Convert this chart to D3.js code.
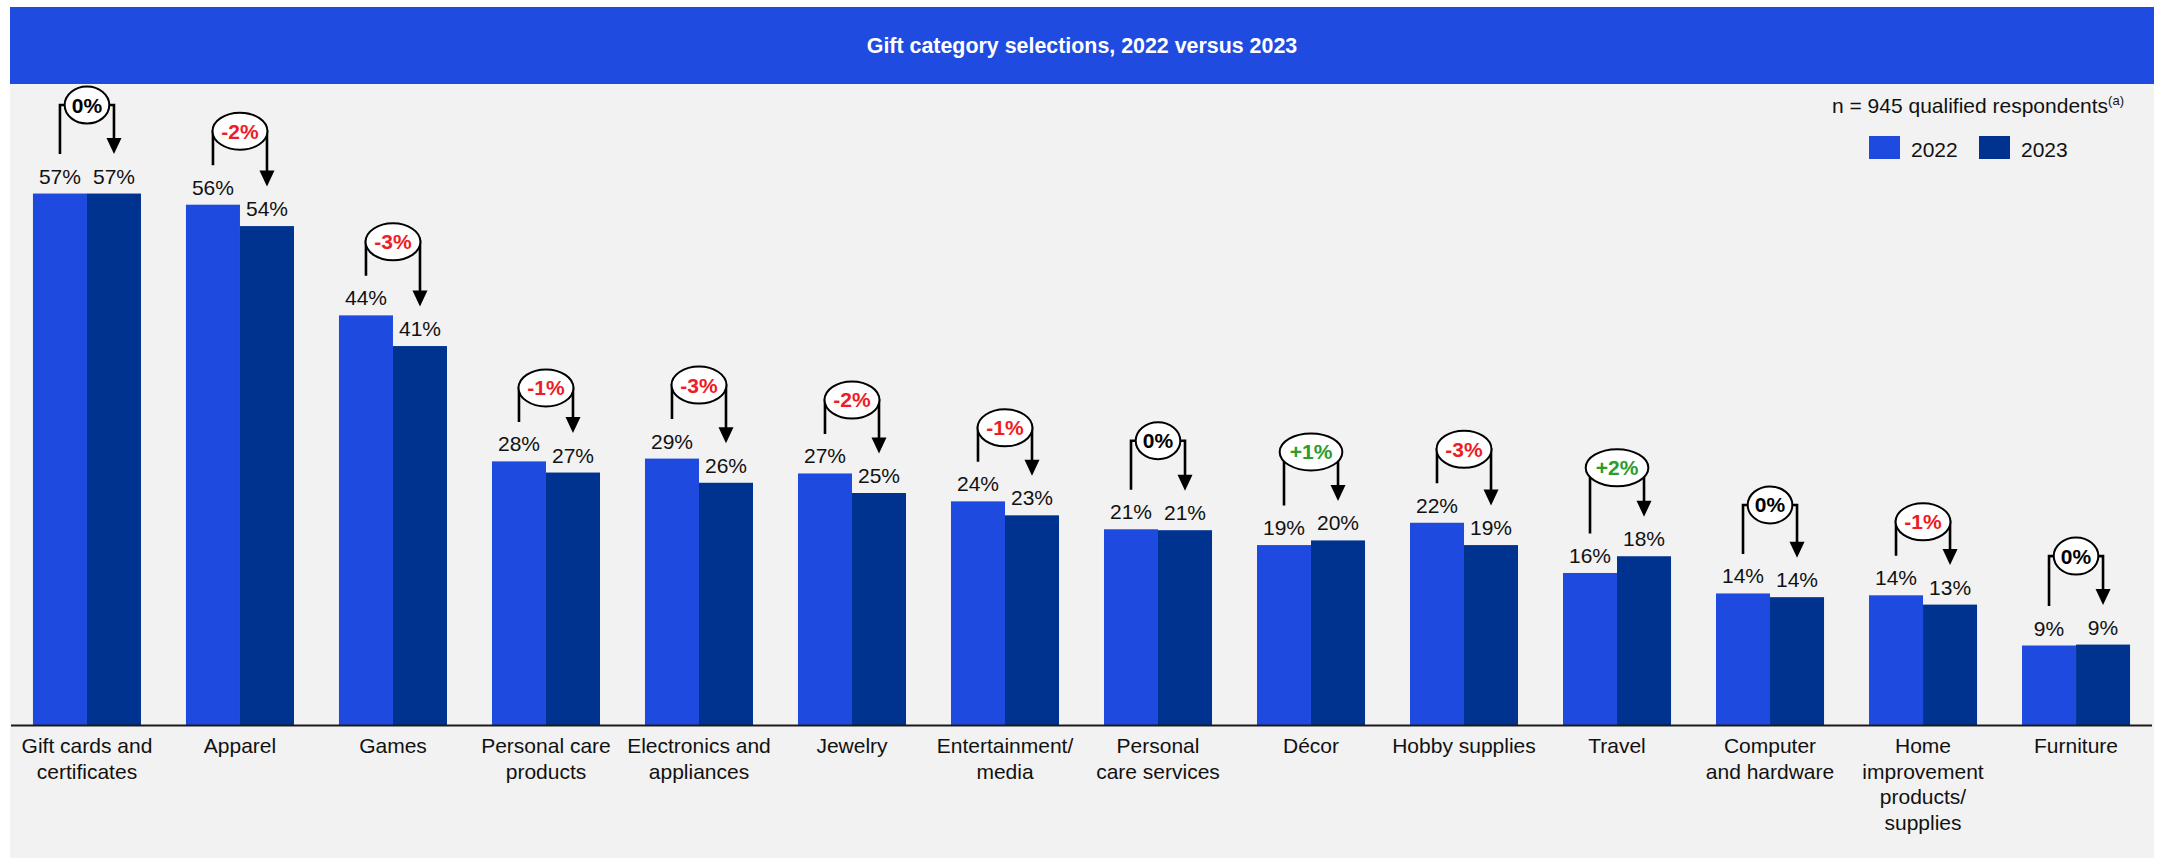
<!DOCTYPE html>
<html><head><meta charset="utf-8">
<script src="https://cdn.jsdelivr.net/npm/d3@7"></script>
<style>
html,body{margin:0;padding:0;background:#fff;}
svg{display:block;font-family:"Liberation Sans",Arial,Helvetica,sans-serif;}
</style>
</head><body>
<svg id="chart" width="2158" height="858"></svg>
<script>
// ---- data ----
const categories = ["Gift cards and certificates","Apparel","Games","Personal care products","Electronics and appliances","Jewelry","Entertainment/ media","Personal care services","Décor","Hobby supplies","Travel","Computer and hardware","Home improvement products/ supplies","Furniture"];
const categoryLines = [
  ["Gift cards and","certificates"],["Apparel"],["Games"],["Personal care","products"],
  ["Electronics and","appliances"],["Jewelry"],["Entertainment/","media"],["Personal","care services"],
  ["Décor"],["Hobby supplies"],["Travel"],["Computer","and hardware"],
  ["Home","improvement","products/","supplies"],["Furniture"]];
const seriesNames = ["2022","2023"];
const values2022 = [57.2,56.0,44.1,28.4,28.7,27.1,24.1,21.1,19.4,21.8,16.4,14.2,14.0,8.6];
const values2023 = [57.2,53.7,40.8,27.2,26.1,25.0,22.6,21.0,19.9,19.4,18.2,13.8,13.0,8.7];
const labels2022 = ["57%","56%","44%","28%","29%","27%","24%","21%","19%","22%","16%","14%","14%","9%"];
const labels2023 = ["57%","54%","41%","27%","26%","25%","23%","21%","20%","19%","18%","14%","13%","9%"];
const changes = ["0%","-2%","-3%","-1%","-3%","-2%","-1%","0%","+1%","-3%","+2%","0%","-1%","0%"];
const yTicks = [0, 60];
const title = "Gift category selections, 2022 versus 2023";
const noteText = "n = 945 qualified respondents";
const noteSup = "(a)";

// ---- styles ----
const C22 = "#1f4ae0", C23 = "#00338f", TITLE_BG = "#204be1", PANEL = "#f2f2f2";
const RED = "#ee1d25", GREEN = "#2a9d2a";
const svg = d3.select("#chart");

// panel & title
svg.append("rect").attr("x",10).attr("y",84).attr("width",2144).attr("height",774).attr("fill",PANEL);
svg.append("rect").attr("x",10).attr("y",7).attr("width",2144).attr("height",77).attr("fill",TITLE_BG);
svg.append("text").attr("x",1082).attr("y",53).attr("text-anchor","middle")
  .attr("fill","#fff").attr("font-weight","bold").attr("font-size",21.4).text(title);

// scales
const x = d3.scaleBand().domain(categories).range([11,2152]).paddingInner(0.294).paddingOuter(0.1435);
const xs = d3.scaleBand().domain(seriesNames).range([0,x.bandwidth()]);
const y = d3.scaleLinear().domain(yTicks).range([725.5, 725.5 - 60*9.3]);

const rows = categories.map((c,i)=>({c,i,v:[values2022[i],values2023[i]],l:[labels2022[i],labels2023[i]],ch:changes[i]}));

// bars
const g = svg.append("g");
const grp = g.selectAll("g.grp").data(rows).join("g").attr("class","grp")
  .attr("transform",d=>`translate(${x(d.c)},0)`);
grp.selectAll("rect").data(d=>seriesNames.map((s,k)=>({s,v:d.v[k],l:d.l[k]}))).join("rect")
  .attr("x",d=>xs(d.s)).attr("width",xs.bandwidth())
  .attr("y",d=>y(d.v)).attr("height",d=>y(0)-y(d.v))
  .attr("fill",d=>d.s==="2022"?C22:C23);
grp.selectAll("text.val").data(d=>seriesNames.map((s,k)=>({s,v:d.v[k],l:d.l[k]}))).join("text")
  .attr("class","val").attr("x",d=>xs(d.s)+xs.bandwidth()/2).attr("y",d=>y(d.v)-10)
  .attr("text-anchor","middle").attr("font-size",21).attr("fill","#111").text(d=>d.l);

// axis line
svg.append("line").attr("x1",11).attr("x2",2152).attr("y1",y(0)).attr("y2",y(0))
  .attr("stroke","#1a1a1a").attr("stroke-width",2);

// category labels
const cl = svg.selectAll("text.cat").data(rows).join("text").attr("class","cat")
  .attr("text-anchor","middle").attr("font-size",21).attr("fill","#111");
cl.selectAll("tspan").data(d=>categoryLines[d.i].map(t=>({t,cx:x(d.c)+x.bandwidth()/2}))).join("tspan")
  .attr("x",d=>d.cx).attr("y",(d,k)=>753+k*25.5).text(d=>d.t);

// change annotations
const ann = svg.append("g");
rows.forEach(d=>{
  const xL = x(d.c)+xs("2022")+xs.bandwidth()/2;
  const xR = x(d.c)+xs("2023")+xs.bandwidth()/2;
  const xc = x(d.c)+x.bandwidth()/2;
  const yL = y(d.v[0]) - 39.5, yR = y(d.v[1]) - 39.5;
  const neg = d.ch.startsWith("-");
  const lvl = neg ? yL - 34 : Math.min(yL,yR) - 49;
  const a = ann.append("g");
  a.append("path").attr("d",`M${xL},${yL}V${lvl}H${xR}V${yR-15}`)
    .attr("fill","none").attr("stroke","#000").attr("stroke-width",2.6);
  a.append("path").attr("d",`M${xR-7.5},${yR-16}L${xR+7.5},${yR-16}L${xR},${yR}Z`).attr("fill","#000");
  const el = a.append("ellipse").attr("cx",xc).attr("cy",lvl).attr("ry",18.5)
    .attr("fill","#fff").attr("stroke","#000").attr("stroke-width",2);
  const t = a.append("text").attr("x",xc).attr("y",lvl+7.5).attr("text-anchor","middle")
    .attr("font-weight","bold").attr("font-size",21)
    .attr("fill",neg?RED:(d.ch.startsWith("+")?GREEN:"#000")).text(d.ch);
  el.attr("rx",t.node().getComputedTextLength()*0.735);
});

// note & legend
const note = svg.append("text").attr("x",2124).attr("y",113).attr("text-anchor","end")
  .attr("font-size",21).attr("fill","#111");
note.append("tspan").text(noteText);
note.append("tspan").attr("font-size",13).attr("dy",-8).text(noteSup);

const leg = svg.append("g").selectAll("g").data(seriesNames).join("g")
  .attr("transform",(d,k)=>`translate(${1869+k*110},136)`);
leg.append("rect").attr("width",31).attr("height",23).attr("fill",d=>d==="2022"?C22:C23);
leg.append("text").attr("x",42).attr("y",21).attr("font-size",21).attr("fill","#111").text(d=>d);
</script>
</body></html>
